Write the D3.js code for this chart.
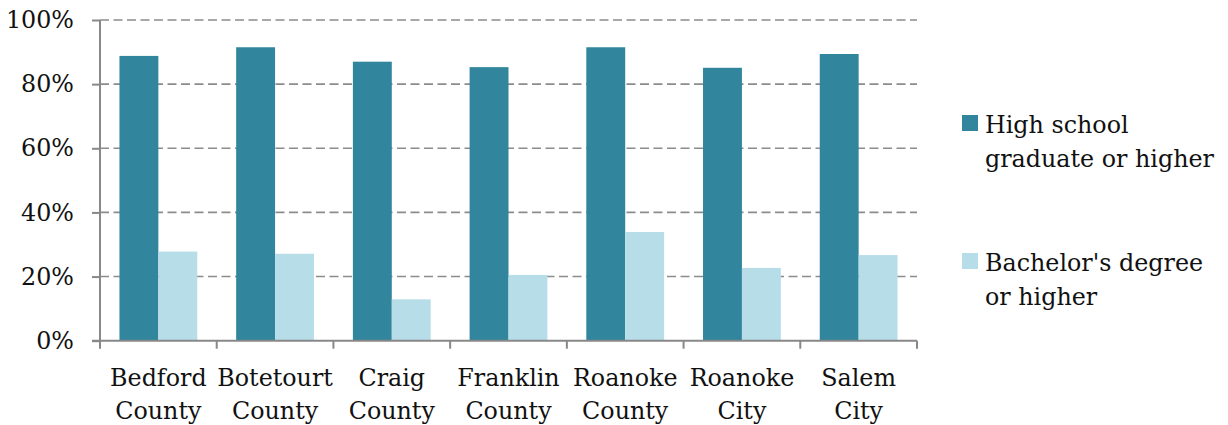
<!DOCTYPE html>
<html>
<head>
<meta charset="utf-8">
<script src="https://cdn.jsdelivr.net/npm/d3@7"></script>
<style>
  html, body { margin: 0; padding: 0; background: #fff; }
  svg { display: block; }
  text { font-family: "DejaVu Serif", serif; fill: #111; }
</style>
</head>
<body>
<svg id="chart" width="1228" height="425"></svg>
<script>
const categories = [
  ["Bedford", "County"],
  ["Botetourt", "County"],
  ["Craig", "County"],
  ["Franklin", "County"],
  ["Roanoke", "County"],
  ["Roanoke", "City"],
  ["Salem", "City"]
];
const seriesNames = [
  ["High school", "graduate or higher"],
  ["Bachelor's degree", "or higher"]
];
const highSchool = [0.888, 0.915, 0.870, 0.853, 0.915, 0.851, 0.894];
const bachelors  = [0.278, 0.271, 0.129, 0.205, 0.339, 0.227, 0.267];
const yTicks = [0, 0.2, 0.4, 0.6, 0.8, 1.0];
const colors = ["#31859C", "#B7DEE8"];

(function () {
const svg = d3.select("#chart");
const mLeft = 100, mRight = 917, mTop = 20, mBottom = 340.7;
const catKeys = categories.map(c => c.join(" "));
const FONT = "'DejaVu Serif', serif";
const FS = "23.8px";

const x0 = d3.scaleBand().domain(catKeys).range([mLeft, mRight]).padding(0);
const x1 = d3.scaleBand().domain([0, 1]).range([0, x0.bandwidth()])
  .paddingInner(0).paddingOuter(0.5);
const y = d3.scaleLinear().domain([0, 1]).range([mBottom, mTop]);

const axisColor = "#888888";

// gridlines
svg.append("g").selectAll("line")
  .data(yTicks.filter(d => d > 0))
  .join("line")
  .attr("x1", mLeft).attr("x2", mRight)
  .attr("y1", d => y(d)).attr("y2", d => y(d))
  .attr("stroke", "#8c8c8c")
  .attr("stroke-width", 1.6)
  .attr("stroke-dasharray", "9,4.5");

// bars
const data = catKeys.map((k, i) => ({ key: k, vals: [highSchool[i], bachelors[i]] }));
const groups = svg.append("g").selectAll("g")
  .data(data).join("g")
  .attr("transform", d => `translate(${x0(d.key)},0)`);
groups.selectAll("rect")
  .data(d => d.vals.map((v, j) => ({ v, j })))
  .join("rect")
  .attr("x", d => x1(d.j))
  .attr("width", x1.bandwidth())
  .attr("y", d => y(d.v))
  .attr("height", d => y(0) - y(d.v))
  .attr("fill", d => colors[d.j]);

// y axis
const yAxis = d3.axisLeft(y).tickValues(yTicks).tickFormat(d3.format(".0%"))
  .tickSize(8).tickPadding(18);
const yg = svg.append("g").attr("transform", `translate(${mLeft},0)`).call(yAxis);
yg.select(".domain").attr("stroke", axisColor).attr("stroke-width", 2)
  .attr("d", `M0,${mTop}V${mBottom}`);
yg.selectAll(".tick line").attr("stroke", axisColor).attr("stroke-width", 2);
yg.selectAll(".tick text")
  .style("font-family", FONT)
  .style("font-size", FS).attr("fill", "#111");

// x axis
const xg = svg.append("g");
xg.append("line").attr("x1", mLeft - 8).attr("x2", mRight)
  .attr("y1", mBottom).attr("y2", mBottom)
  .attr("stroke", axisColor).attr("stroke-width", 2);
const bounds = catKeys.map(k => x0(k)).concat([x0(catKeys[catKeys.length - 1]) + x0.bandwidth()]);
xg.selectAll("line.tk").data(bounds).join("line").attr("class", "tk")
  .attr("x1", d => d).attr("x2", d => d)
  .attr("y1", mBottom).attr("y2", mBottom + 8)
  .attr("stroke", axisColor).attr("stroke-width", 2);
const lbl = xg.selectAll("text").data(categories).join("text")
  .attr("text-anchor", "middle")
  .style("font-family", FONT)
  .style("font-size", FS)
  .attr("x", (d, i) => x0(catKeys[i]) + x0.bandwidth() / 2)
  .attr("y", 386);
lbl.selectAll("tspan").data(d => d).join("tspan")
  .attr("x", function() { return this.parentNode.getAttribute("x"); })
  .attr("dy", (d, i) => i === 0 ? 0 : 33)
  .text(d => d);

// legend
const legendY = [115, 253];
const lg = svg.append("g").selectAll("g").data(seriesNames).join("g")
  .attr("transform", (d, i) => `translate(962,${legendY[i]})`);
lg.append("rect").attr("width", 16).attr("height", 16)
  .attr("fill", (d, i) => colors[i]);
const lt = lg.append("text").attr("x", 23).attr("y", 18)
  .style("font-family", FONT).style("font-size", FS);
lt.selectAll("tspan").data(d => d).join("tspan")
  .attr("x", 23).attr("dy", (d, i) => i === 0 ? 0 : 34)
  .text(d => d);
})();
</script>
</body>
</html>
